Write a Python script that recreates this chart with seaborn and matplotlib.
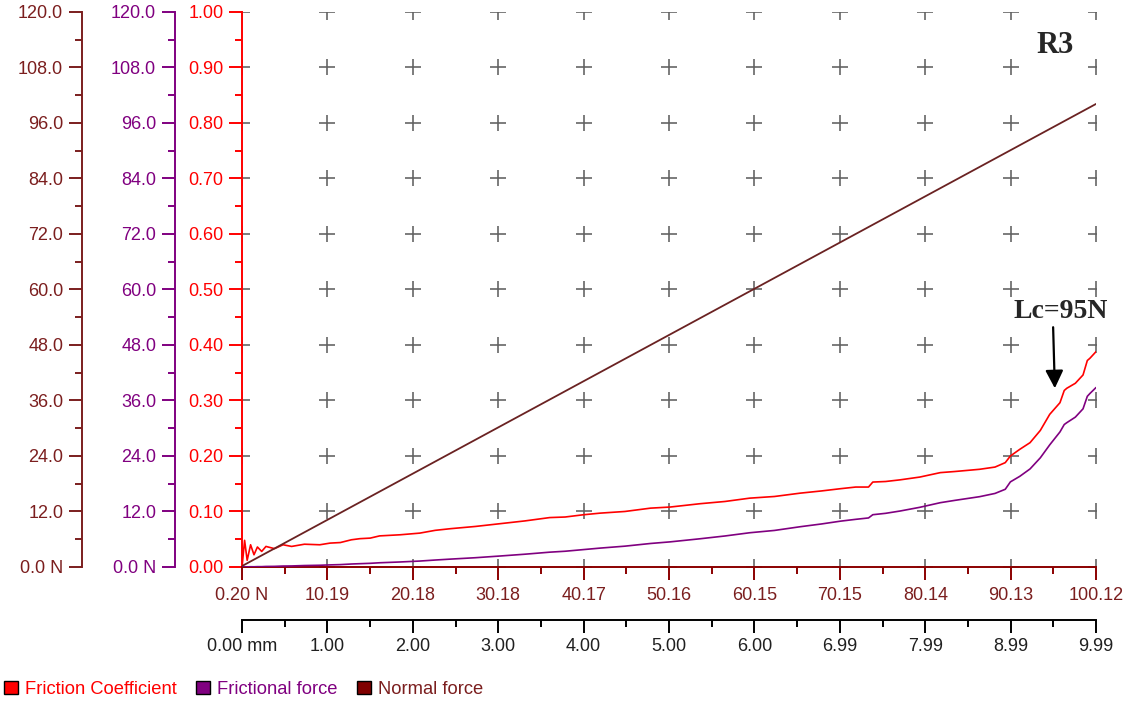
import numpy as np
import matplotlib
matplotlib.use("Agg")
import matplotlib.pyplot as plt
import seaborn as sns
from matplotlib.patches import Patch

# %% DATA

load_n = [0.2, 0.5, 0.8, 1.2, 1.6, 2.0, 2.5, 3.0, 4.0, 5.0, 6.0, 7.5, 9.3, 10.5, 11.7,
          13.0, 14.0, 15.2, 16.3, 18.7, 21.0, 22.8, 24.6, 27.5, 30.4, 33.3, 36.2, 38.0,
          40.1, 42.1, 45.0, 48.0, 50.3, 53.8, 56.7, 59.6, 62.5, 65.5, 68.0, 70.2, 72.0,
          73.5, 74.0, 75.5, 77.2, 79.5, 81.9, 83.6, 86.5, 88.3, 89.5, 90.1, 91.2, 92.4,
          93.6, 94.7, 95.9, 96.4, 96.7, 97.7, 98.6, 99.1, 99.4, 100.12]

friction_coef = [0.000, 0.048, 0.012, 0.040, 0.022, 0.036, 0.028, 0.037, 0.033, 0.040,
                 0.037, 0.041, 0.040, 0.043, 0.044, 0.049, 0.051, 0.052, 0.056, 0.058,
                 0.061, 0.066, 0.069, 0.073, 0.078, 0.083, 0.089, 0.090, 0.094, 0.097,
                 0.100, 0.106, 0.108, 0.114, 0.118, 0.124, 0.127, 0.133, 0.137, 0.141,
                 0.144, 0.144, 0.153, 0.154, 0.157, 0.162, 0.170, 0.172, 0.176, 0.180,
                 0.188, 0.200, 0.212, 0.224, 0.246, 0.275, 0.296, 0.318, 0.322, 0.331,
                 0.346, 0.372, 0.376, 0.388]

frictional_force = [0.0, 0.02, 0.01, 0.05, 0.04, 0.07, 0.07, 0.11, 0.13, 0.20, 0.22, 0.31,
                    0.37, 0.45, 0.51, 0.64, 0.71, 0.79, 0.91, 1.08, 1.28, 1.50, 1.70, 2.00,
                    2.37, 2.76, 3.20, 3.40, 3.75, 4.08, 4.50, 5.08, 5.43, 6.10, 6.70, 7.40,
                    7.90, 8.70, 9.30, 9.90, 10.3, 10.6, 11.3, 11.6, 12.1, 12.9, 13.9, 14.4,
                    15.2, 15.9, 16.8, 18.4, 19.6, 21.2, 23.6, 26.4, 29.2, 30.8, 31.2, 32.4,
                    34.2, 36.9, 37.5, 38.8]

normal_force = [0.2, 100.12]
normal_load = [0.2, 100.12]

load_ticks = [0.20, 10.19, 20.18, 30.18, 40.17, 50.16, 60.15, 70.15, 80.14, 90.13, 100.12]
load_labels = ['0.20 N', '10.19', '20.18', '30.18', '40.17', '50.16', '60.15', '70.15',
               '80.14', '90.13', '100.12']
dist_labels = ['0.00 mm', '1.00', '2.00', '3.00', '4.00', '5.00', '6.00', '6.99', '7.99',
               '8.99', '9.99']
coef_ticks = [0.0, 0.1, 0.2, 0.3, 0.4, 0.5, 0.6, 0.7, 0.8, 0.9, 1.0]
force_ticks = [0, 12, 24, 36, 48, 60, 72, 84, 96, 108, 120]

# %% STYLE

sns.set_style('white')
plt.rcParams['font.family'] = ['Liberation Sans', 'DejaVu Sans']

RED = '#FF0000'
PURPLE = '#800080'
BROWN = '#7B1E1E'
NLINE = '#6A2222'
FS = 13
MAJ, MIN = 9.5, 4.8

fig = plt.figure(figsize=(11.46, 7.01), dpi=100)
ax = fig.add_axes([0.2112, 0.1912, 0.7452, 0.7917])
ax_f = ax.twinx()
ax_n = ax.twinx()
ax_mm = ax.twiny()

# grid crosses
gx, gy = np.meshgrid(load_ticks, coef_ticks)
ax.plot(gx.ravel(), gy.ravel(), ls='none', marker='+', ms=12, mew=1.2,
        color='#666666', zorder=1)

# %% CURVES

sns.lineplot(x=load_n, y=friction_coef, ax=ax, color=RED, lw=1.2, zorder=3)
sns.lineplot(x=load_n, y=frictional_force, ax=ax_f, color=PURPLE, lw=1.2, zorder=3)
sns.lineplot(x=normal_load, y=normal_force, ax=ax_n, color=NLINE, lw=1.3, zorder=3)

# %% AXES

ax.set_xlim(0.2, 100.12)
ax.set_ylim(0, 1.0)
for a in (ax_f, ax_n):
    a.set_ylim(0, 120)

# friction coefficient axis (red)
ax.set_yticks(coef_ticks)
ax.set_yticklabels([f'{v:.2f}' for v in coef_ticks])
ax.set_yticks(np.arange(0.05, 1.0, 0.1), minor=True)
ax.tick_params(axis='y', which='both', colors=RED, direction='out', width=1.4,
               labelsize=FS, pad=4, left=True)
ax.tick_params(axis='y', which='major', length=MAJ)
ax.tick_params(axis='y', which='minor', length=MIN)
for s in ('top', 'right'):
    ax.spines[s].set_visible(False)
ax.spines['left'].set_color(RED)
ax.spines['left'].set_linewidth(1.4)

# load axis (bottom)
ax.set_xticks(load_ticks)
ax.set_xticklabels(load_labels)
ax.set_xticks([(load_ticks[i] + load_ticks[i + 1]) / 2 for i in range(10)], minor=True)
ax.tick_params(axis='x', which='both', colors='#8B0000', direction='out', width=1.4,
               labelsize=FS, pad=5, bottom=True)
ax.tick_params(axis='x', which='major', length=MAJ)
ax.tick_params(axis='x', which='minor', length=MIN)
ax.spines['bottom'].set_color('#8B0000')
ax.spines['bottom'].set_linewidth(1.4)
for lab in ax.get_xticklabels():
    lab.set_color(BROWN)

# force axes on the left
for a, col, off in ((ax_f, PURPLE, -0.0785), (ax_n, BROWN, -0.1874)):
    a.yaxis.tick_left()
    for s in ('top', 'right', 'bottom'):
        a.spines[s].set_visible(False)
    a.spines['left'].set_visible(True)
    a.spines['left'].set_position(('axes', off))
    a.spines['left'].set_color(col)
    a.spines['left'].set_linewidth(1.4)
    a.set_yticks(force_ticks)
    a.set_yticklabels(['0.0 N'] + [f'{v:.1f}' for v in force_ticks[1:]])
    a.set_yticks(np.arange(6, 120, 12), minor=True)
    a.tick_params(axis='y', which='both', colors=col, direction='out', width=1.4,
                  labelsize=FS, pad=4, left=True, right=False)
    a.tick_params(axis='y', which='major', length=MAJ)
    a.tick_params(axis='y', which='minor', length=MIN)
    a.set_ylabel('')

# sliding distance axis (second bottom axis)
ax_mm.set_xlim(0, 9.99)
ax_mm.xaxis.tick_bottom()
for s in ('top', 'right', 'left'):
    ax_mm.spines[s].set_visible(False)
ax_mm.spines['bottom'].set_position(('outward', 38))
ax_mm.spines['bottom'].set_color('black')
ax_mm.spines['bottom'].set_linewidth(1.4)
dist_pos = np.linspace(0, 9.99, 11)
ax_mm.set_xticks(dist_pos)
ax_mm.set_xticklabels(dist_labels)
ax_mm.set_xticks((dist_pos[:-1] + dist_pos[1:]) / 2, minor=True)
ax_mm.tick_params(axis='x', which='both', colors='black', direction='out', width=1.4,
                  labelsize=FS, pad=4, bottom=True, top=False)
ax_mm.tick_params(axis='x', which='major', length=MAJ)
ax_mm.tick_params(axis='x', which='minor', length=MIN)
for lab in ax_mm.get_xticklabels():
    lab.set_color('#202020')

for a in (ax, ax_f, ax_n, ax_mm):
    a.set_xlabel('')
    a.grid(False)
ax.set_ylabel('')

# %% ANNOTATIONS

ax.text(0.952, 0.94, 'R3', transform=ax.transAxes, ha='center', va='center',
        fontsize=22, fontweight='bold', family=['Liberation Serif', 'DejaVu Serif'])
ax.text(0.959, 0.46, 'Lc=95N', transform=ax.transAxes, ha='center', va='center',
        fontsize=20, fontweight='bold', family=['Liberation Serif', 'DejaVu Serif'])
ax.annotate('', xy=(95.3, 0.322), xytext=(95.1, 0.432),
            arrowprops=dict(arrowstyle='-|>,head_length=0.6,head_width=0.3',
                            mutation_scale=18, lw=1.6, color='black',
                            shrinkA=0, shrinkB=0), zorder=5)

# %% LEGEND

handles = [Patch(facecolor=RED, edgecolor='black', lw=1.0),
           Patch(facecolor=PURPLE, edgecolor='black', lw=1.0),
           Patch(facecolor='#800000', edgecolor='black', lw=1.0)]
labels = ['Friction Coefficient', 'Frictional force', 'Normal force']
leg = fig.legend(handles, labels, loc='lower left', bbox_to_anchor=(-0.011, -0.019),
                 ncol=3, frameon=False, fontsize=FS + 0.2, handlelength=0.75,
                 handleheight=0.75, handletextpad=0.4, columnspacing=1.05)
for t, c in zip(leg.get_texts(), [RED, PURPLE, BROWN]):
    t.set_color(c)

fig.savefig('out.png', dpi=100)
